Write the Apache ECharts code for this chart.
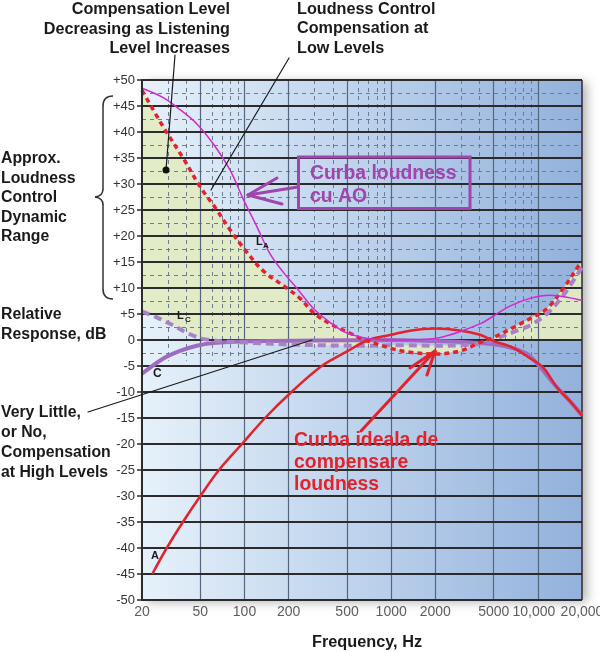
<!DOCTYPE html>
<html><head><meta charset="utf-8">
<script src="https://cdn.jsdelivr.net/npm/echarts@6/dist/echarts.min.js"></script>
<style>html,body{margin:0;padding:0;background:#fff}#c{width:600px;height:652px}</style>
</head><body><div id="c"></div>
<script>
// ---- axis ticks ----
const xTickValues = [20, 50, 100, 200, 500, 1000, 2000, 5000, 10000, 20000];
const xTickLabels = ['20', '50', '100', '200', '500', '1000', '2000', '5000', '10,000', '20,000'];
const xMinorValues = [30, 40, 60, 70, 80, 90, 300, 400, 600, 700, 800, 900, 3000, 4000, 6000, 7000, 8000, 9000];
const yMajorValues = [50, 45, 40, 35, 30, 25, 20, 15, 10, 5, 0, -5, -10, -15, -20, -25, -30, -35, -40, -45, -50];
const yMinorValues = [47.5, 42.5, 37.5, 32.5, 27.5, 22.5, 17.5, 12.5, 7.5, 2.5, -2.5];

// ---- curves: [frequency Hz, dB] ----
const curveAO = [[20,48.4],[27.9,46.6],[36.3,44.3],[47.2,41.6],[61.3,37.7],[79.6,32.7],[98,27.1],[121,21.9],[149,16.6],[184,13.0],[227,10.0],[294,6.1],[382,3.4],[494,1.4],[796,0.1],[1210,0.0],[2000,0.3],[2390,0.8],[2940,1.6],[4030,3.1],[4480,3.8],[6450,6.5],[8830,8.0],[12100,8.6],[16600,8.1],[20000,7.6]];
const curveIdeal = [[20,48],[27.9,41],[38.3,34.9],[50,29.4],[63,25.5],[79.6,21.2],[101,17.3],[134,13.3],[194,10],[239,8],[302,5],[403,2.8],[524,1.3],[662,0],[1000,-1.6],[1300,-2.3],[2000,-2.7],[2940,-2.1],[4030,-0.5],[5000,0.5],[6800,2.4],[8830,4.1],[11500,6.0],[15000,10.0],[19000,14.3],[20000,15]];
const curveLc = [[20,5.5],[25,4.4],[32.7,2.8],[42.5,1.1],[55,0.1],[103,-0.5],[227,-0.9],[646,-1.1],[1210,-1.0],[2000,-1.1],[3444,-0.9],[4480,-0.4],[5800,0.8],[7550,2.0],[8830,2.8],[11500,5.0],[15000,8.7],[20000,14]];
const curveC = [[20,-6.5],[27.8,-3.6],[36.3,-2.1],[47.2,-1.1],[61,-0.6],[103,-0.25],[300,-0.1],[1000,0],[2000,-0.2],[3090,-0.4],[5000,-0.8],[6800,-1.6],[8350,-2.6],[9800,-4.4],[13400,-9],[16600,-11.8],[20000,-14.5]];
const curveA = [[23.5,-45],[29.5,-40],[38,-35],[50,-30],[67,-25],[96,-20],[138,-15],[209,-10],[336,-5],[500,-2.2],[698,0],[1000,1.0],[1343,1.8],[2000,2.2],[3000,1.8],[4030,1.0],[5000,-0.2],[6800,-1.5],[8830,-3.5],[10900,-5.3],[13400,-9],[16600,-11.8],[20000,-14.5]];
// lower edge of the green "dynamic range" band
const shadeLower = [[20,5.5],[25,4.4],[32.7,2.8],[42.5,1.1],[55,0.1],[103,-0.5],[227,-0.9],[646,-1.1],[1210,-1.0],[2000,-1.1],[3444,-0.9],[4480,-0.3],[6000,0],[20000,0]];

const FONT = '"Liberation Sans", Arial, Helvetica, sans-serif';
const chart = echarts.init(document.getElementById('c'));

const H_MAJOR = {color:'#2b2b2b', width:2, type:'solid'};
const V_MAJOR = {color:'#56667c', width:1.2, type:'solid'};
const DASH = {color:'#6d7c8e', width:1, type:[4,4]};

const gridLines = [];
yMinorValues.forEach(v => gridLines.push({yAxis: v, lineStyle: DASH}));
xMinorValues.forEach(v => gridLines.push([{coord:[v,50], lineStyle: DASH},{coord:[v,-4]}]));
xTickValues.slice(1, -1).forEach(v => gridLines.push({xAxis: v, lineStyle: V_MAJOR}));
gridLines.push({xAxis: 20000, lineStyle: {color:'#2b2b2b', width:1.5, type:'solid'}});
yMajorValues.forEach(v => gridLines.push({yAxis: v, lineStyle: H_MAJOR}));

function txt(text, x, y, size, align, color, weight) {
  return {type:'text', x:x, y:y, z:100, silent:true,
    style:{text:text, font:(weight||'bold')+' '+size+'px '+FONT, fill:color||'#1a1a1a',
      align:align||'left', textAlign:align||'left', verticalAlign:'middle', textVerticalAlign:'middle'}};
}
function seg(x1,y1,x2,y2,color,w){
  return {type:'line', z:100, silent:true, shape:{x1:x1,y1:y1,x2:x2,y2:y2}, style:{stroke:color, lineWidth:w, lineCap:'round'}};
}
function curve(x1,y1,cx,cy,x2,y2,color,w){
  return {type:'bezierCurve', z:100, silent:true, shape:{x1:x1,y1:y1,cpx1:cx,cpy1:cy,x2:x2,y2:y2}, style:{stroke:color, lineWidth:w, fill:'none'}};
}
const PURPLE = '#a044ae';
const RED = '#e2232b';
const BR = '#333';
const TS = 16.2, LS = 15.8, AS = 19.4;

const graphics = [
  txt('Compensation Level', 230, 10, TS, 'right'),
  txt('Decreasing as Listening', 230, 29.5, TS, 'right'),
  txt('Level Increases', 230, 49, TS, 'right'),
  txt('Loudness Control', 297, 9.5, TS, 'left'),
  txt('Compensation at', 297, 29, TS, 'left'),
  txt('Low Levels', 297, 48.5, TS, 'left'),
  txt('Approx.', 1, 159, LS), txt('Loudness', 1, 178.5, LS), txt('Control', 1, 198, LS),
  txt('Dynamic', 1, 217.5, LS), txt('Range', 1, 237, LS),
  txt('Relative', 1, 315, LS), txt('Response, dB', 1, 334.5, LS),
  txt('Very Little,', 1, 413, LS), txt('or No,', 1, 433, LS),
  txt('Compensation', 1, 453, LS), txt('at High Levels', 1, 473, LS),
  txt('Frequency, Hz', 367, 643, 16.3, 'center'),
  // pointer lines
  seg(175, 55, 166, 170, '#1a1a1a', 1.2),
  {type:'circle', z:100, silent:true, shape:{cx:166, cy:170, r:3.5}, style:{fill:'#111'}},
  seg(289, 58, 211, 190, '#1a1a1a', 1.2),
  seg(88, 412, 312, 340, '#1a1a1a', 1.2),
  // brace
  curve(113, 96, 103, 96, 103, 106, BR, 1.5),
  seg(103, 106, 103, 189, BR, 1.5),
  curve(103, 189, 103, 196, 95, 197, BR, 1.5),
  curve(95, 197, 103, 198, 103, 205, BR, 1.5),
  seg(103, 205, 103, 289, BR, 1.5),
  curve(103, 289, 103, 299, 113, 299, BR, 1.5),
  // curve labels
  txt('L', 256, 242, 11), txt('A', 263, 246, 8),
  txt('L', 177, 316, 11), txt('C', 185, 320, 8),
  txt('C', 153, 374, 12),
  txt('A', 151, 556, 11),
  // purple box + arrow
  {type:'rect', z:100, silent:true, shape:{x:298.5, y:157, width:171.5, height:51.5}, style:{fill:'none', stroke:PURPLE, lineWidth:3}},
  txt('Curba loudness', 310, 174, AS, 'left', PURPLE),
  txt('cu AO', 310, 196.5, AS, 'left', PURPLE),
  seg(298, 187, 248, 195, PURPLE, 3),
  seg(248, 195, 277, 178, PURPLE, 3),
  seg(248, 195, 282, 204, PURPLE, 3),
  // red text + arrow
  txt('Curba ideala de', 294, 441, AS, 'left', RED),
  txt('compensare', 294, 463, AS, 'left', RED),
  txt('loudness', 294, 485, AS, 'left', RED),
  seg(361, 431, 435, 351, RED, 3),
  seg(435, 351, 410, 368, RED, 3),
  seg(435, 351, 427, 375, RED, 3)
];

const option = {
  animation: false,
  textStyle: {fontFamily: FONT},
  grid: {left:142, right:18, top:80, bottom:52, show:true, borderWidth:0,
    backgroundColor: {type:'linear', x:0, y:0, x2:1, y2:0,
      colorStops:[{offset:0, color:'#e6f1fa'},{offset:0.5, color:'#bdd2ec'},{offset:1, color:'#93b1dc'}]},
    shadowColor:'rgba(0,0,0,0.3)', shadowBlur:10, shadowOffsetX:5, shadowOffsetY:2},
  xAxis: {type:'log', logBase:10, min:20, max:20000,
    axisLine:{show:false}, axisTick:{show:false}, axisLabel:{show:false}, splitLine:{show:false}, minorSplitLine:{show:false}},
  yAxis: {type:'value', min:-50, max:50, interval:5, z:10,
    axisLine:{show:true, lineStyle:{color:'#2b2b2b', width:2}},
    axisTick:{show:true, length:5, lineStyle:{color:'#2b2b2b', width:1.5}},
    axisLabel:{color:'#333', fontSize:13, margin:7, fontFamily:FONT, formatter: v => v > 0 ? '+' + v : String(v)},
    splitLine:{show:false}},
  graphic: graphics,
  series: [
    {type:'scatter', name:'ticks', clip:false, symbolSize:1, itemStyle:{color:'rgba(0,0,0,0)'}, z:1,
      data: xTickValues.map(v => v === 10000 ? {value:[v, -50], label:{offset:[-4, 0]}} : [v, -50]),
      label:{show:true, position:'bottom', distance:5, color:'#333', fontSize:14, fontFamily:FONT,
        formatter: p => xTickLabels[p.dataIndex]},
      markLine:{silent:true, z:2, animation:false, symbol:['none','none'], label:{show:false},
        emphasis:{disabled:true}, data: gridLines}},
    {type:'custom', name:'range', z:1, silent:true, clip:true, data:[0],
      renderItem: (params, api) => {
        const pts = curveIdeal.map(p => api.coord(p)).concat(shadeLower.slice().reverse().map(p => api.coord(p)));
        return {type:'polygon', shape:{points:pts}, style:{fill:'#e1ebc4', opacity:0.95}};
      }},
    {type:'line', name:'C', data:curveC, smooth:0.35, symbol:'none', z:3,
      lineStyle:{color:'#9d6cc0', width:4}},
    {type:'line', name:'Lc', data:curveLc, smooth:0.35, symbol:'none', z:3,
      lineStyle:{color:'#a882c8', width:4, type:[8,5]}},
    {type:'line', name:'A', data:curveA, smooth:0.35, symbol:'none', z:4,
      lineStyle:{color:RED, width:2.5}},
    {type:'line', name:'ideal', data:curveIdeal, smooth:0.35, symbol:'none', z:4,
      lineStyle:{color:RED, width:3.5, type:[5,4]}},
    {type:'line', name:'AO', data:curveAO, smooth:0.35, symbol:'none', z:5,
      lineStyle:{color:'#d22ad0', width:1.5}}
  ]
};
chart.setOption(option);
</script></body></html>
